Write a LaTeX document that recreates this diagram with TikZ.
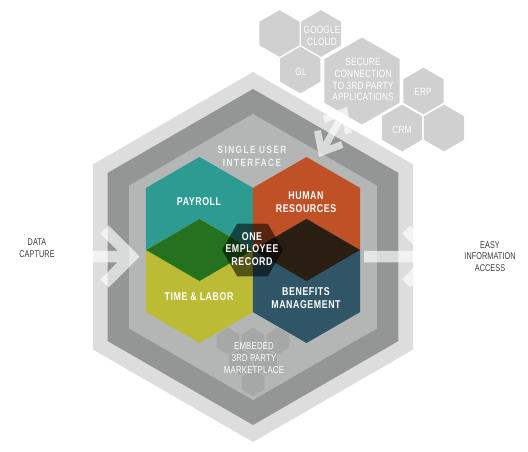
\documentclass[tikz,border=0pt]{standalone}
\usepackage{fontspec}
\setmainfont{Liberation Sans}
\newfontfamily\cond{Liberation Sans}[FakeStretch=0.78,LetterSpace=2]
\newfontfamily\condh{Liberation Sans}[FakeStretch=0.78,LetterSpace=5]
\newfontfamily\condn{Liberation Sans}[FakeStretch=0.74,LetterSpace=1]
\newfontfamily\condw{Liberation Sans}[FakeStretch=0.78,LetterSpace=14]
\usetikzlibrary{calc}
\definecolor{outerC}{HTML}{DCDDDC}
\definecolor{ringC}{HTML}{949695}
\definecolor{innerC}{HTML}{B4B6B5}
\definecolor{mkC}{HTML}{A6A8A7}
\definecolor{clusterC}{HTML}{CFD0CF}
\definecolor{payC}{HTML}{2E9B93}
\definecolor{hrC}{HTML}{C05127}
\definecolor{tlC}{HTML}{BCBB35}
\definecolor{bmC}{HTML}{305567}
\definecolor{greenC}{HTML}{24711F}
\definecolor{brownC}{HTML}{2A1D12}
\definecolor{textC}{HTML}{3A3A3A}
\newcommand\phex[4][]{\path[#1,shift={(#2,#3)}] (90:#4) -- (150:#4) -- (210:#4) -- (270:#4) -- (330:#4) -- (30:#4) -- cycle;}
\newcommand\fhex[4][]{\path[#1,shift={(#2,#3)}] (0:#4) -- (60:#4) -- (120:#4) -- (180:#4) -- (240:#4) -- (300:#4) -- cycle;}
\tikzset{
  hexlbl/.style={align=center, text=white, inner sep=0pt, font=\condh\bfseries\fontsize{11.3}{12.8}\selectfont},
  suilbl/.style={align=center, text=white!94!black, inner sep=0pt, font=\condw\bfseries\fontsize{10.5}{12.8}\selectfont},
  clulbl/.style={align=center, text=white, inner sep=0pt, font=\cond\fontsize{10.5}{11.9}\selectfont},
  mklbl/.style={align=center, text=white, inner sep=0pt, font=\cond\fontsize{10}{11.7}\selectfont},
  sidelbl/.style={align=center, text=textC, inner sep=0pt, font=\condn\fontsize{9.8}{11.7}\selectfont},
  warrow/.style={draw=white, draw opacity=0.65, line join=miter, line cap=butt},
}
\begin{document}
\begin{tikzpicture}[x=1pt,y=-1pt]
\useasboundingbox (0,0) rectangle (528,452);
% big hexagons
\phex[fill=outerC]{253}{257}{185}
\phex[fill=ringC]{253}{257}{168}
\phex[fill=innerC]{253}{257}{143}
% marketplace hexes
\phex[fill=mkC]{228}{341}{13.2}
\phex[fill=mkC]{253}{341}{13.2}
\phex[fill=mkC]{278}{341}{13.2}
\phex[fill=mkC]{240.5}{362}{13.2}
\phex[fill=mkC]{265.5}{362}{13.2}
\phex[fill=mkC]{253}{383}{13.2}
% coloured hexagons
\phex[fill=payC]{199.5}{219}{62}
\phex[fill=hrC]{306.5}{219}{62}
\phex[fill=tlC]{199.5}{281}{62}
\phex[fill=bmC]{306.5}{281}{62}
\path[fill=greenC] (146.2,250) -- (199.5,219) -- (252.8,250) -- (199.5,281) -- cycle;
\path[fill=brownC] (253.2,250) -- (306.5,219) -- (359.8,250) -- (306.5,281) -- cycle;
\fhex[fill=black, fill opacity=0.55]{252.5}{250}{30.5}
% cluster hexes
\phex[fill=clusterC]{279.5}{33.5}{23.3}
\phex[fill=clusterC]{321}{33.5}{23.3}
\phex[fill=clusterC]{300.3}{70}{23.3}
\phex[fill=clusterC]{362}{81}{43.5}
\phex[fill=clusterC]{423.5}{91}{23.3}
\phex[fill=clusterC]{402}{128}{23.3}
\phex[fill=clusterC]{444}{128}{23.3}
% arrows
\coordinate (lS) at (85,256.5);
\coordinate (lE) at (133,256.5);
\coordinate (lV) at (131.5,256.5);
\coordinate (lU) at (104.5,229.5);
\coordinate (lD) at (104.5,283.5);
\path[warrow, line width=11.5] (lS) -- (lE) (lU) -- (lV) -- (lD);
\coordinate (rS) at (364,256.5);
\coordinate (rE) at (440,256.5);
\coordinate (rV) at (433,256.5);
\coordinate (rU) at (406,229.5);
\coordinate (rD) at (406,283.5);
\path[warrow, line width=11.5] (rS) -- (rE) (rU) -- (rV) -- (rD);
\coordinate (dA) at (319,157);
\coordinate (dB) at (347,107);
\coordinate (vA) at ($(dA)!5.4pt!(dB)$);
\coordinate (vB) at ($(dB)!5.4pt!(dA)$);
\path[warrow, line width=7] ($(vA)!22pt!40:(vB)$) -- (vA) -- ($(vA)!22pt!-40:(vB)$)
  (vA) -- (vB)
  ($(vB)!22pt!40:(vA)$) -- (vB) -- ($(vB)!22pt!-40:(vA)$);
% labels
\node[sidelbl] (data) at (37,248.5) {DATA\\CAPTURE};
\node[sidelbl] (easy) at (490,256.5) {EASY\\INFORMATION\\ACCESS};
\node[suilbl] (sui) at (252,156.5) {SINGLE USER\\INTERFACE};
\node[hexlbl] (pay) at (199,201.7) {PAYROLL};
\node[hexlbl] (hr) at (306,202.5) {HUMAN\\RESOURCES};
\node[hexlbl] (one) at (252,249) {ONE\\EMPLOYEE\\RECORD};
\node[hexlbl] (tl) at (199,296.7) {TIME \& LABOR};
\node[hexlbl] (bm) at (306,297.8) {BENEFITS\\MANAGEMENT};
\node[mklbl] (emb) at (254,358) {EMBEDED\\3RD PARTY\\MARKETPLACE};
\node[clulbl] (goog) at (322,35.5) {GOOGLE\\CLOUD};
\node[clulbl] (gl) at (301,72) {GL};
\node[clulbl] (sec) at (363,79.5) {SECURE\\CONNECTION\\TO 3RD PARTY\\APPLICATIONS};
\node[clulbl] (erp) at (423,92) {ERP};
\node[clulbl] (crm) at (402,130) {CRM};
\end{tikzpicture}
\end{document}
